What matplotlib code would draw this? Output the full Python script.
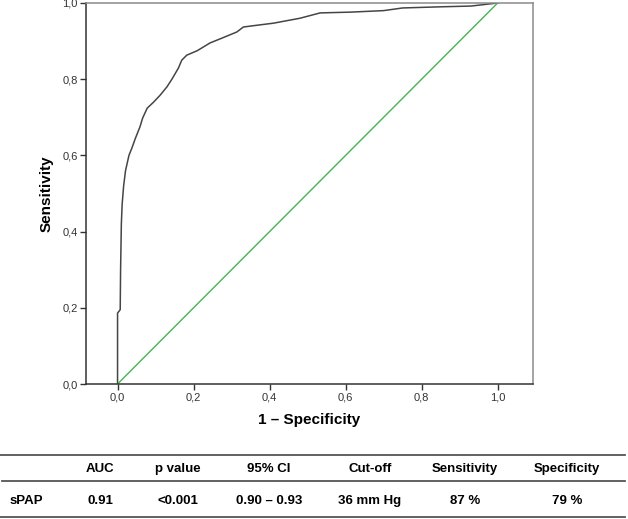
import matplotlib
matplotlib.use("Agg")
import matplotlib.pyplot as plt

plt.rcParams['font.family'] = ['Liberation Sans', 'DejaVu Sans']

# ROC curve
fpr = [0.0, 0.0, 0.003, 0.007, 0.008, 0.010, 0.012, 0.016, 0.021, 0.030, 0.038,
       0.047, 0.059, 0.066, 0.078, 0.095, 0.112, 0.130, 0.143, 0.160, 0.169,
       0.182, 0.210, 0.243, 0.280, 0.314, 0.331, 0.370, 0.410, 0.480, 0.533,
       0.612, 0.700, 0.750, 0.850, 0.930, 1.0]
tpr = [0.0, 0.186, 0.190, 0.195, 0.300, 0.420, 0.470, 0.520, 0.560, 0.600, 0.620,
       0.645, 0.675, 0.698, 0.724, 0.740, 0.758, 0.780, 0.800, 0.829, 0.850,
       0.863, 0.875, 0.895, 0.910, 0.924, 0.937, 0.942, 0.947, 0.960, 0.974,
       0.976, 0.980, 0.987, 0.990, 0.992, 1.0]
ref_line = [0.0, 1.0]

ticks = [0.0, 0.2, 0.4, 0.6, 0.8, 1.0]
tick_labels = ["0,0", "0,2", "0,4", "0,6", "0,8", "1,0"]

col_names = ["", "AUC", "p value", "95% CI", "Cut-off", "Sensitivity", "Specificity"]
row_values = ["sPAP", "0.91", "<0.001", "0.90 \u2013 0.93", "36 mm Hg", "87 %", "79 %"]
col_x = [10, 100, 178, 269, 370, 465, 567]   # column centres in pixels

W, H = 628, 519
fig = plt.figure(figsize=(W / 100, H / 100), dpi=100)
ax = fig.add_axes([86 / W, 1 - 384 / H, (533 - 86) / W, (384 - 3) / H])

ax.plot(fpr, tpr, color="#454545", lw=1.1)
ax.plot(ref_line, ref_line, color="#44b553", lw=1.0)

ax.set_xlim(-0.083, 1.093)
ax.set_ylim(0, 1.0)
ax.set_xticks(ticks)
ax.set_xticklabels(tick_labels)
ax.set_yticks(ticks)
ax.set_yticklabels(tick_labels)
ax.tick_params(direction="out", length=4, width=1, labelsize=8, colors="#333333", pad=2)
for side in ["left", "bottom"]:
    ax.spines[side].set_color("#333333")
    ax.spines[side].set_linewidth(1.1)
for side in ["top", "right"]:
    ax.spines[side].set_color("#8a8a8a")
    ax.spines[side].set_linewidth(1.1)

ax.set_xlabel("1 \u2013 Specificity", fontsize=11, fontweight="bold", labelpad=8)
ax.set_ylabel("Sensitivity", fontsize=11, fontweight="bold", labelpad=6)

# table under the chart
def fy(py):
    return 1 - py / H

for py, x0 in [(455, 0), (481, 2 / W), (517, 0)]:
    fig.add_artist(plt.Line2D([x0, 625 / W], [fy(py), fy(py)], color="#555555", lw=1.3))

for i, (name, val) in enumerate(zip(col_names, row_values)):
    ha = "left" if i == 0 else "center"
    fig.text(col_x[i] / W, fy(469), name, ha=ha, va="center", fontsize=9.5, fontweight="bold")
    fig.text(col_x[i] / W, fy(501), val, ha=ha, va="center", fontsize=9.5, fontweight="bold")

fig.savefig("out.png", dpi=100)
